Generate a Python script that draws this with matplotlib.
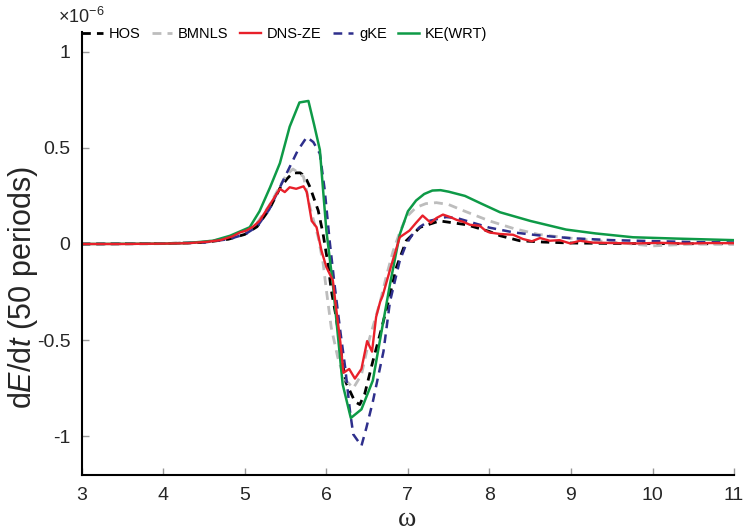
import numpy as np
import matplotlib
matplotlib.use('Agg')
import matplotlib.pyplot as plt

plt.rcParams['font.family'] = ['Liberation Sans Narrow', 'Liberation Sans', 'DejaVu Sans']
plt.rcParams['axes.unicode_minus'] = False
plt.rcParams['mathtext.fontset'] = 'custom'
plt.rcParams['mathtext.rm'] = 'Liberation Sans'
plt.rcParams['mathtext.it'] = 'Liberation Sans:italic'

# values in units of 1e-6
hos_x = [3.0, 4.0, 4.5, 4.8, 5.0, 5.15, 5.3, 5.43, 5.52, 5.59, 5.68, 5.74, 5.80, 5.90, 5.96,
         6.02, 6.06, 6.12, 6.20, 6.24, 6.35, 6.41, 6.47, 6.57, 6.67, 6.76, 6.86, 6.98, 7.15,
         7.39, 7.72, 8.0, 8.13, 8.37, 8.66, 9.0, 9.5, 10.0, 11.0]
hos_y = [0, 0.002, 0.008, 0.025, 0.05, 0.09, 0.18, 0.29, 0.34, 0.37, 0.37, 0.35, 0.295, 0.174,
         0.052, -0.104, -0.24, -0.38, -0.62, -0.72, -0.82, -0.835, -0.78, -0.61, -0.45, -0.30,
         -0.12, 0.017, 0.087, 0.12, 0.10, 0.065, 0.043, 0.017, 0.01, 0.005, 0.003, 0.002, 0.001]

bmnls_x = [3.0, 4.0, 4.5, 4.8, 5.0, 5.15, 5.3, 5.43, 5.51, 5.59, 5.66, 5.72, 5.80, 5.90, 5.96,
           6.0, 6.06, 6.14, 6.22, 6.33, 6.43, 6.53, 6.66, 6.74, 6.82, 6.90, 6.98, 7.1, 7.22,
           7.35, 7.5, 7.7, 8.0, 8.3, 8.6, 9.0, 9.5, 10.0, 10.5, 11.0]
bmnls_y = [0, 0.002, 0.01, 0.03, 0.06, 0.11, 0.2, 0.30, 0.36, 0.39, 0.37, 0.35, 0.19, 0.035,
           -0.10, -0.24, -0.435, -0.59, -0.70, -0.75, -0.68, -0.49, -0.30, -0.16, -0.035, 0.06,
           0.14, 0.19, 0.21, 0.215, 0.205, 0.17, 0.12, 0.08, 0.05, 0.03, 0.01, -0.01, 0.0, 0.0]

dns_x = [3.0, 3.5, 4.0, 4.3, 4.55, 4.7, 4.85, 4.94, 5.02, 5.10, 5.18, 5.27, 5.33, 5.39, 5.43,
         5.49, 5.55, 5.63, 5.72, 5.76, 5.82, 5.88, 5.94, 6.0, 6.08, 6.11, 6.17, 6.21, 6.28,
         6.35, 6.43, 6.50, 6.56, 6.61, 6.66, 6.69, 6.79, 6.90, 7.02, 7.10, 7.18, 7.28, 7.35,
         7.43, 7.52, 7.60, 7.68, 7.76, 7.82, 7.88, 7.95, 8.0, 8.13, 8.29, 8.41, 8.52, 8.62,
         8.74, 8.86, 8.99, 9.11, 9.27, 9.5, 9.8, 10.1, 10.4, 10.7, 11.0]
dns_y = [0, 0, 0.002, 0.004, 0.012, 0.02, 0.04, 0.06, 0.07, 0.09, 0.12, 0.18, 0.22, 0.26, 0.287,
         0.27, 0.295, 0.287, 0.30, 0.27, 0.12, 0.087, -0.035, -0.12, -0.19, -0.30, -0.505,
         -0.67, -0.65, -0.70, -0.65, -0.505, -0.56, -0.38, -0.30, -0.27, -0.12, 0.035, 0.07,
         0.11, 0.148, 0.11, 0.135, 0.153, 0.14, 0.125, 0.115, 0.10, 0.097, 0.095, 0.07, 0.06,
         0.052, 0.048, 0.026, 0.014, 0.031, 0.017, 0.02, 0.003, 0.017, 0.007, 0.005, 0.003,
         0.006, 0.002, 0.005, 0.004]

gke_x = [3.0, 4.0, 4.5, 4.8, 5.0, 5.15, 5.3, 5.47, 5.55, 5.65, 5.76, 5.84, 5.92, 5.98, 6.04,
         6.10, 6.17, 6.23, 6.29, 6.33, 6.43, 6.49, 6.57, 6.70, 6.78, 6.90, 6.98, 7.06, 7.15,
         7.26, 7.47, 7.6, 7.8, 8.0, 8.3, 8.6, 9.0, 9.5, 10.0, 10.5, 11.0]
gke_y = [0, 0.002, 0.008, 0.025, 0.05, 0.09, 0.18, 0.33, 0.40, 0.487, 0.556, 0.53, 0.47, 0.28,
         0.017, -0.21, -0.45, -0.64, -0.87, -0.99, -1.05, -0.957, -0.82, -0.56, -0.30, -0.087,
         0.0, 0.052, 0.09, 0.12, 0.14, 0.135, 0.11, 0.085, 0.06, 0.045, 0.03, 0.02, 0.015,
         0.01, 0.008]

wrt_x = [3.0, 4.0, 4.3, 4.61, 4.82, 5.06, 5.18, 5.31, 5.43, 5.55, 5.67, 5.78, 5.85, 5.92,
         6.0, 6.08, 6.14, 6.20, 6.30, 6.43, 6.57, 6.67, 6.78, 6.90, 7.0, 7.1, 7.2, 7.3, 7.4,
         7.5, 7.7, 7.9, 8.13, 8.5, 8.94, 9.3, 9.76, 10.3, 11.0]
wrt_y = [0, 0.002, 0.005, 0.017, 0.043, 0.087, 0.17, 0.295, 0.42, 0.61, 0.736, 0.744, 0.62,
         0.49, 0.07, -0.21, -0.47, -0.73, -0.905, -0.86, -0.71, -0.47, -0.21, 0.05, 0.17,
         0.226, 0.26, 0.278, 0.28, 0.272, 0.25, 0.21, 0.165, 0.12, 0.075, 0.055, 0.035, 0.028,
         0.02]

fig = plt.figure(figsize=(7.43, 5.30), dpi=100)
ax = fig.add_axes([0.110, 0.1043, 0.878, 0.8344])

ax.plot(hos_x, hos_y, color='black', lw=2.0, dashes=(3, 2.2), label='HOS')
ax.plot(bmnls_x, bmnls_y, color='#bdbdbd', lw=2.0, dashes=(3.2, 2.2), label='BMNLS')
ax.plot(gke_x, gke_y, color='#2e2f8c', lw=1.8, dashes=(3.5, 2.5), label='gKE', zorder=2.1)
ax.plot(wrt_x, wrt_y, color='#0e9a47', lw=1.8, label='KE(WRT)', zorder=2.2)
ax.plot(dns_x, dns_y, color='#e8202a', lw=1.7, label='DNS-ZE', zorder=2.3)

ax.set_xlim(3, 11)
ax.set_ylim(-1.2, 1.1)
ax.set_xticks(range(3, 12))
ax.set_yticks([-1, -0.5, 0, 0.5, 1])
ax.set_yticklabels(['-1', '-0.5', '0', '0.5', '1'])
ax.tick_params(direction='in', length=5, width=1, color='#999999', labelsize=14,
               labelcolor='#262626', pad=8)
ax.tick_params(axis='x', pad=9)
ax.spines['top'].set_visible(False)
ax.spines['right'].set_visible(False)
for s in ['left', 'bottom']:
    ax.spines[s].set_linewidth(1.5)

h, l = ax.get_legend_handles_labels()
order = [0, 1, 4, 2, 3]
fig.legend([h[i] for i in order], [l[i] for i in order], loc='center',
           bbox_to_anchor=(0.383, 0.936), ncol=5, frameon=False, fontsize=10.5,
           handlelength=1.4, handletextpad=0.4, columnspacing=0.8)

fig.text(0.078, 0.968, r'$\times$10$^{-6}$', fontsize=13, color='#262626', va='center')
fig.text(0.031, 0.457, r'd$\mathit{E}$/d$\mathit{t}$ (50 periods)', rotation=90,
         fontsize=22, color='#262626', ha='center', va='center',
         family=['Liberation Sans'])
fig.text(0.548, 0.007, 'ω', fontsize=20, color='#262626', ha='center', va='baseline',
         family=['Liberation Serif'])

fig.savefig('out.png', dpi=100)
